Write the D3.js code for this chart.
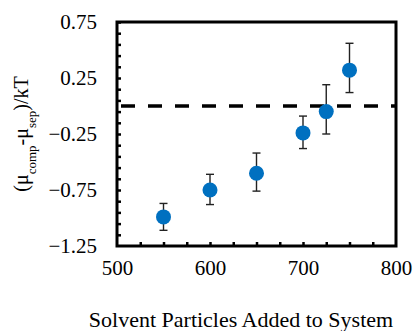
<!DOCTYPE html>
<html>
<head>
<meta charset="utf-8">
<script src="https://cdn.jsdelivr.net/npm/d3@7"></script>
<style>
  body { margin: 0; background: #fff; }
</style>
</head>
<body>
<div id="chart"></div>
<script>
// data
const particles = [550, 600, 650, 700, 725, 750];
const deltaMu = [-0.99, -0.75, -0.60, -0.24, -0.05, 0.32];
const errTop = [0.12, 0.14, 0.18, 0.15, 0.24, 0.24];
const errBottom = [0.12, 0.13, 0.16, 0.14, 0.20, 0.20];
const xTicks = [500, 600, 700, 800];
const yTicks = [-1.25, -0.75, -0.25, 0.25, 0.75];
const refLine = 0;

const serif = '"Liberation Serif", "Times New Roman", serif';
const width = 415, height = 331;
const margin = { top: 22, right: 19, bottom: 85, left: 117 };
const w = width - margin.left - margin.right;
const h = height - margin.top - margin.bottom;

const x = d3.scaleLinear().domain([500, 800]).range([0, w]);
const y = d3.scaleLinear().domain([-1.25, 0.75]).range([h, 0]);

const svg = d3.select('#chart')
  .append('svg')
  .attr('width', width)
  .attr('height', height)
  .attr('font-family', serif);

const g = svg.append('g')
  .attr('transform', `translate(${margin.left}, ${margin.top})`);

// minor ticks, pointing inward
const yMinor = d3.range(0.75, -1.25, -0.1);
g.append('g')
  .call(d3.axisRight(y).tickValues(yMinor).tickSize(4).tickFormat(''))
  .call(s => s.select('.domain').remove())
  .selectAll('line').attr('stroke-width', 2.5);

const xMinor = d3.range(525, 800, 25);
g.append('g')
  .attr('transform', `translate(0, ${h})`)
  .call(d3.axisTop(x).tickValues(xMinor).tickSize(4).tickFormat(''))
  .call(s => s.select('.domain').remove())
  .selectAll('line').attr('stroke-width', 2.5);

// tick labels
g.append('g')
  .call(d3.axisLeft(y).tickValues(yTicks).tickSize(0).tickPadding(20).tickFormat(d3.format('.2f')))
  .call(s => s.select('.domain').remove())
  .attr('font-family', serif)
  .attr('font-size', 21);

g.append('g')
  .attr('transform', `translate(0, ${h})`)
  .call(d3.axisBottom(x).tickValues(xTicks).tickSize(0).tickPadding(14))
  .call(s => s.select('.domain').remove())
  .attr('font-family', serif)
  .attr('font-size', 21);

// dashed reference line at zero
g.append('line')
  .attr('x1', 0).attr('x2', w)
  .attr('y1', y(refLine)).attr('y2', y(refLine))
  .attr('stroke', '#000')
  .attr('stroke-width', 3.5)
  .attr('stroke-dasharray', '14 13')
  .attr('stroke-dashoffset', -4);

// error bars
const pts = particles.map((p, i) => ({ x: p, y: deltaMu[i], hi: errTop[i], lo: errBottom[i] }));
const eb = g.append('g').attr('stroke', '#222').attr('stroke-width', 1.4);
eb.selectAll('.v').data(pts).enter().append('line')
  .attr('x1', d => x(d.x)).attr('x2', d => x(d.x))
  .attr('y1', d => y(d.y + d.hi)).attr('y2', d => y(d.y - d.lo));
eb.selectAll('.t').data(pts).enter().append('line')
  .attr('x1', d => x(d.x) - 4).attr('x2', d => x(d.x) + 4)
  .attr('y1', d => y(d.y + d.hi)).attr('y2', d => y(d.y + d.hi));
eb.selectAll('.b').data(pts).enter().append('line')
  .attr('x1', d => x(d.x) - 4).attr('x2', d => x(d.x) + 4)
  .attr('y1', d => y(d.y - d.lo)).attr('y2', d => y(d.y - d.lo));

// markers
g.selectAll('circle').data(pts).enter().append('circle')
  .attr('cx', d => x(d.x))
  .attr('cy', d => y(d.y))
  .attr('r', 7.5)
  .attr('fill', '#0070C0');

// frame
g.append('rect')
  .attr('width', w).attr('height', h)
  .attr('fill', 'none')
  .attr('stroke', '#000')
  .attr('stroke-width', 3);

// axis titles
svg.append('text')
  .attr('x', 241)
  .attr('y', 327)
  .attr('text-anchor', 'middle')
  .attr('font-size', 22)
  .text('Solvent Particles Added to System');

const yl = svg.append('text')
  .attr('transform', `translate(28, ${margin.top + h / 2}) rotate(-90)`)
  .attr('text-anchor', 'middle')
  .attr('font-size', 20);
yl.append('tspan').text('(μ');
yl.append('tspan').attr('baseline-shift', 'sub').attr('font-size', 13).text('comp');
yl.append('tspan').text('-μ');
yl.append('tspan').attr('baseline-shift', 'sub').attr('font-size', 13).text('sep');
yl.append('tspan').text(')/kT');
</script>
</body>
</html>
